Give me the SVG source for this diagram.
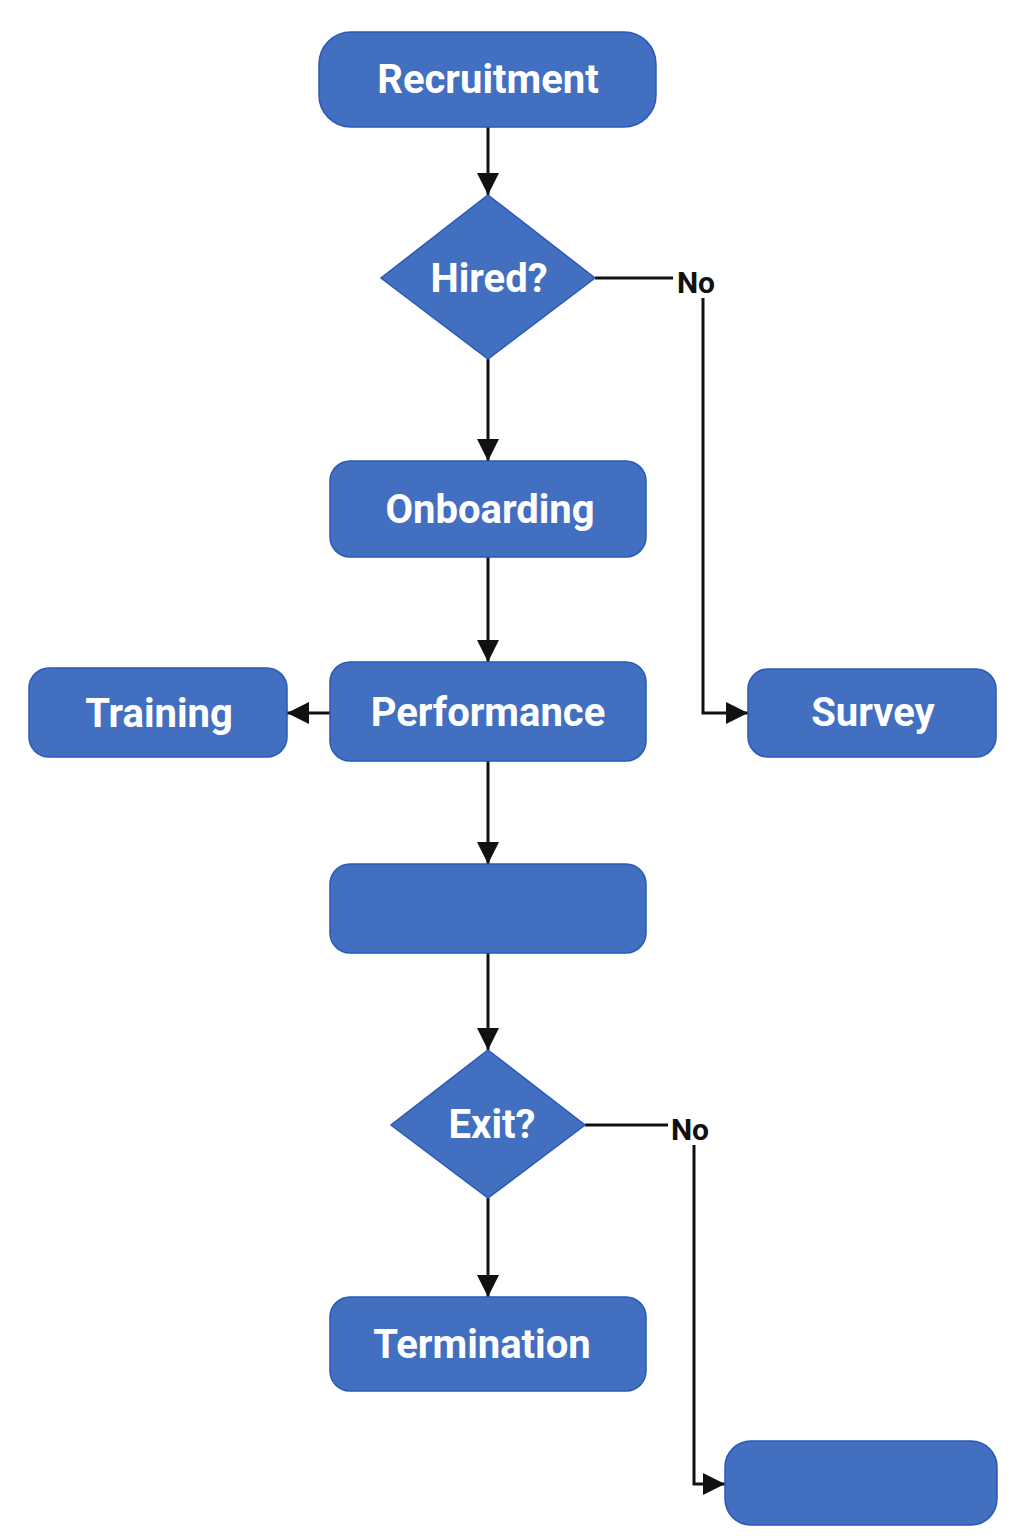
<svg xmlns="http://www.w3.org/2000/svg" width="1024" height="1536" viewBox="0 0 1024 1536">
<style>
.n{fill:#426fc0;stroke:#2a5ab8;stroke-width:1.5}
.t{font-family:"Roboto","Liberation Sans",sans-serif;font-weight:bold;font-size:40px;fill:#fff;text-anchor:middle;dominant-baseline:central}
.c{fill:none;stroke:#111;stroke-width:3}
.l{font-family:"Roboto","Liberation Sans",sans-serif;font-weight:bold;font-size:30px;fill:#111;text-anchor:middle;dominant-baseline:central}
</style>
<defs>
<marker id="ah" viewBox="0 0 10 10" refX="10" refY="5" markerWidth="22" markerHeight="22" markerUnits="userSpaceOnUse" orient="auto">
<path d="M0,0 L10,5 L0,10 z" fill="#111"/>
</marker>
</defs>
<rect width="1024" height="1536" fill="#fff"/>
<g id="connectors">
<path class="c" d="M488,127 V195" marker-end="url(#ah)"/>
<path class="c" d="M488,359 V461" marker-end="url(#ah)"/>
<path class="c" d="M595,278 H673"/>
<path class="c" d="M703,298 V713 H748" marker-end="url(#ah)"/>
<text class="l" x="696" y="282">No</text>
<path class="c" d="M488,557 V662" marker-end="url(#ah)"/>
<path class="c" d="M330,713 H287" marker-end="url(#ah)"/>
<path class="c" d="M488,761 V864" marker-end="url(#ah)"/>
<path class="c" d="M488,953 V1050" marker-end="url(#ah)"/>
<path class="c" d="M585,1125 H668"/>
<text class="l" x="690" y="1129">No</text>
<path class="c" d="M694,1145 V1484 H725" marker-end="url(#ah)"/>
<path class="c" d="M488,1198 V1297" marker-end="url(#ah)"/>
</g>
<g id="recruitment"><rect class="n" x="319" y="32" width="337" height="95" rx="32"/><text class="t" x="488" y="79">Recruitment</text></g>
<g id="hired"><polygon class="n" points="488,195 595,278 488,359 381,278"/><text class="t" x="489" y="278" font-size="37">Hired?</text></g>
<g id="onboarding"><rect class="n" x="330" y="461" width="316" height="96" rx="20"/><text class="t" x="490" y="509">Onboarding</text></g>
<g id="performance"><rect class="n" x="330" y="662" width="316" height="99" rx="20"/><text class="t" x="488" y="712">Performance</text></g>
<g id="training"><rect class="n" x="29" y="668" width="258" height="89" rx="20"/><text class="t" x="159" y="713">Training</text></g>
<g id="survey"><rect class="n" x="748" y="669" width="248" height="88" rx="20"/><text class="t" x="873" y="712">Survey</text></g>
<g id="blank1"><rect class="n" x="330" y="864" width="316" height="89" rx="20"/></g>
<g id="exit"><polygon class="n" points="488,1050 585,1125 488,1198 391,1125"/><text class="t" x="492" y="1124" font-size="37">Exit?</text></g>
<g id="termination"><rect class="n" x="330" y="1297" width="316" height="94" rx="20"/><text class="t" x="482" y="1344">Termination</text></g>
<g id="blank2"><rect class="n" x="725" y="1441" width="272" height="84" rx="26"/></g>
</svg>
